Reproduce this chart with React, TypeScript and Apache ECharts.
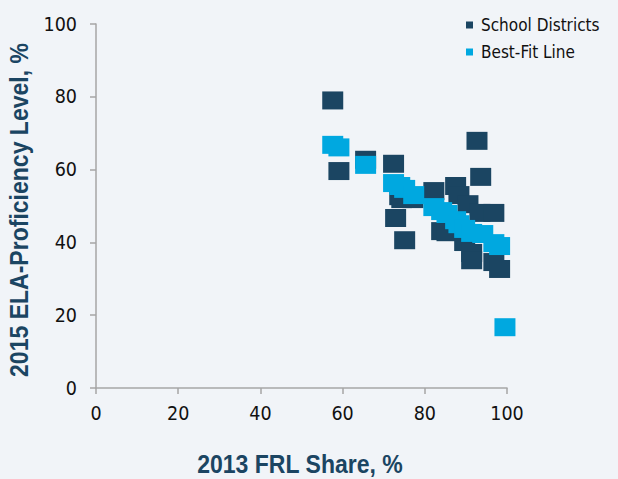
import React, { useEffect, useRef } from "react";
import * as echarts from "echarts";

const seriesNames = ["School Districts", "Best-Fit Line"];
const xAxisTitle = "2013 FRL Share, %";
const yAxisTitle = "2015 ELA-Proficiency Level, %";

const districtFrl = [57.6, 59.1, 65.6, 72.4, 72.9, 73.9, 74.4, 77.1, 75.1, 82.2, 87.5, 88.3, 92.7, 93.6, 90.5, 93.4, 96.8, 84.1, 85.4, 89.7, 91.4, 91.4, 96.8, 98.2];
const districtEla = [79.0, 59.6, 62.7, 61.6, 46.7, 52.7, 51.9, 51.9, 40.6, 54.1, 55.5, 53.0, 67.9, 58.0, 50.5, 48.1, 48.1, 43.1, 42.8, 40.1, 37.1, 35.1, 34.6, 32.7];

const fitFrl = [57.6, 59.1, 65.6, 72.4, 73.9, 75.1, 77.3, 82.2, 84.1, 85.4, 87.5, 88.3, 89.7, 91.4, 94.1, 96.8, 98.2, 99.5];
const fitEla = [66.8, 66.1, 61.3, 56.3, 55.5, 54.7, 53.0, 49.7, 48.6, 47.8, 46.1, 45.0, 43.7, 42.6, 42.3, 39.8, 39.0, 16.7];

const axisTicks = [0, 20, 40, 60, 80, 100];

const LABEL_FONT = "'DejaVu Sans Condensed', 'Liberation Sans', sans-serif";
const TITLE_FONT = "'Liberation Sans', Arial, sans-serif";
const DARK = "#1b4562";
const LIGHT = "#00a8e0";
const BG = "#f1f4f8";

export default function App() {
  const ref = useRef<HTMLDivElement>(null);
  useEffect(() => {
    if (!ref.current) return;
    const chart = echarts.init(ref.current, null, { renderer: "svg" });
    const axisCommon = {
      type: "value" as const,
      min: axisTicks[0],
      max: axisTicks[axisTicks.length - 1],
      interval: 20,
      splitLine: { show: false },
      axisLine: { show: true, lineStyle: { color: "#a6a6a6", width: 1.5 } },
      axisTick: { show: true, length: 6, lineStyle: { color: "#a6a6a6", width: 1.5 } },
    };
    chart.setOption({
      animation: false,
      backgroundColor: BG,
      grid: { left: 96, right: 111, top: 24, bottom: 91 },
      legend: {
        orient: "vertical",
        left: 461,
        top: 11,
        icon: "rect",
        itemWidth: 7,
        itemHeight: 7,
        itemGap: 9,
        textStyle: {
          fontFamily: LABEL_FONT,
          fontSize: 17,
          lineHeight: 18,
          color: "#111",
          padding: [0, 0, 0, 3],
        },
        data: seriesNames,
      },
      xAxis: {
        ...axisCommon,
        axisLabel: { fontFamily: LABEL_FONT, fontSize: 19.5, color: "#111", margin: 15 },
      },
      yAxis: {
        ...axisCommon,
        axisLabel: { fontFamily: LABEL_FONT, fontSize: 19.5, color: "#111", margin: 19 },
      },
      graphic: [
        {
          type: "text",
          x: 300,
          y: 464,
          scaleX: 0.886,
          style: {
            text: xAxisTitle,
            fontFamily: TITLE_FONT,
            fontWeight: "bold",
            fontSize: 26,
            fill: DARK,
            align: "center",
            verticalAlign: "middle",
          },
        },
        {
          type: "text",
          x: 19,
          y: 210,
          rotation: Math.PI / 2,
          scaleX: 0.886,
          style: {
            text: yAxisTitle,
            fontFamily: TITLE_FONT,
            fontWeight: "bold",
            fontSize: 26,
            fill: DARK,
            align: "center",
            verticalAlign: "middle",
          },
        },
      ],
      series: [
        {
          name: seriesNames[0],
          type: "scatter",
          symbol: "rect",
          symbolSize: [21, 18],
          itemStyle: { color: DARK, opacity: 1 },
          data: districtFrl.map((x, i) => [x, districtEla[i]]),
        },
        {
          name: seriesNames[1],
          type: "scatter",
          symbol: "rect",
          symbolSize: [21, 18],
          itemStyle: { color: LIGHT, opacity: 1 },
          data: fitFrl.map((x, i) => [x, fitEla[i]]),
        },
      ],
    });
    return () => chart.dispose();
  }, []);
  return (
    <div
      ref={ref}
      style={{ width: 618, height: 479, position: "absolute", left: 0, top: 0, background: BG }}
    />
  );
}
